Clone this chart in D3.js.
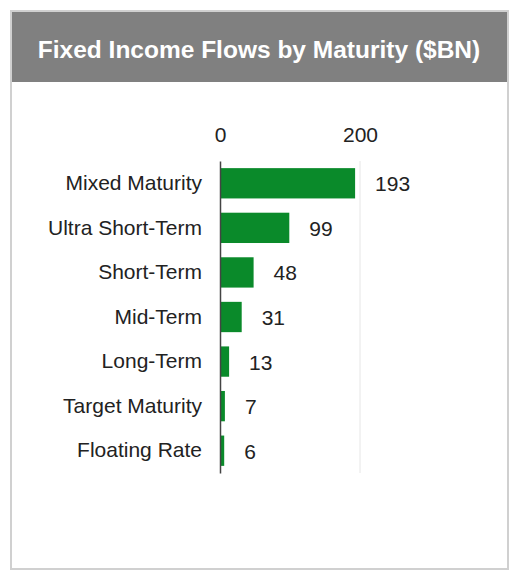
<!DOCTYPE html>
<html><head><meta charset="utf-8">
<script src="https://cdn.jsdelivr.net/npm/d3@7"></script>
<style>body{margin:0;background:#fff}</style>
</head><body>
<svg id="chart" width="519" height="580"></svg>
<script>
// data
const categories = ["Mixed Maturity", "Ultra Short-Term", "Short-Term", "Mid-Term", "Long-Term", "Target Maturity", "Floating Rate"];
const flows = [193, 99, 48, 31, 13, 7, 6];
const tickValues = [0, 200];

const svg = d3.select("#chart");
const font = "Liberation Sans, Arial, sans-serif";

// ! FRAME + HEADER
svg.append("rect").attr("x", 11).attr("y", 11).attr("width", 497).attr("height", 558)
  .attr("fill", "#fff").attr("stroke", "#d0d0d0").attr("stroke-width", 2);
svg.append("rect").attr("x", 12).attr("y", 12).attr("width", 495).attr("height", 70).attr("fill", "#808080");
svg.append("text").attr("x", 259).attr("y", 58).attr("text-anchor", "middle")
  .attr("fill", "#fff").attr("font-family", font).attr("font-weight", "bold").attr("font-size", 24.5)
  .text("Fixed Income Flows by Maturity ($BN)");

// ! SCALES
const x = d3.scaleLinear().domain([0, 200]).range([220, 360]);
const y = d3.scaleBand().domain(categories).range([161, 473]).paddingInner(0.32).paddingOuter(0.16);

// gridline
svg.append("line").attr("x1", x(200)).attr("x2", x(200)).attr("y1", 161).attr("y2", 473)
  .attr("stroke", "#e6e6e6");

// top tick labels
svg.append("g").attr("transform", "translate(0,142)")
  .call(d3.axisTop(x).tickValues(tickValues).tickSize(0).tickPadding(0))
  .call(g => g.select(".domain").remove())
  .selectAll("text").attr("font-family", font).attr("font-size", 21).attr("fill", "#222");

// bars
svg.selectAll(".bar").data(flows).join("rect")
  .attr("x", x(0)).attr("y", (d, i) => y(categories[i]))
  .attr("width", d => x(d) - x(0)).attr("height", y.bandwidth())
  .attr("fill", "#0a8a2a");

// value labels
svg.selectAll(".val").data(flows).join("text")
  .attr("x", d => x(d) + 20).attr("y", (d, i) => y(categories[i]) + y.bandwidth() / 2 + 8)
  .attr("font-family", font).attr("font-size", 21).attr("fill", "#222").text(d => d);

// category axis
svg.append("g").attr("transform", `translate(${x(0)},0)`)
  .call(d3.axisLeft(y).tickSize(0).tickPadding(18))
  .call(g => g.select(".domain").attr("stroke", "#444").attr("stroke-width", 1.5))
  .selectAll("text").attr("font-family", font).attr("font-size", 21).attr("fill", "#222");
</script>
</body></html>
